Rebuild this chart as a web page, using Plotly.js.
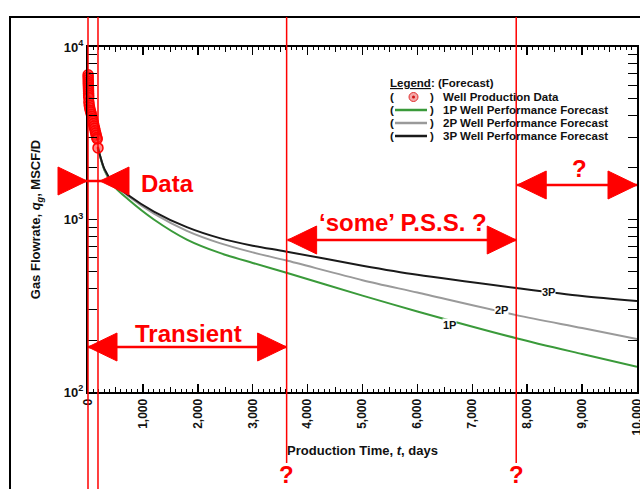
<!DOCTYPE html>
<html>
<head>
<meta charset="utf-8">
<script src="https://cdn.plot.ly/plotly-3.0.1.min.js"></script>
<style>
  html, body { margin: 0; padding: 0; background: #ffffff; }
  #chart { width: 640px; height: 489px; }
</style>
</head>
<body>
<div id="chart"></div>
<script>
// Measured well production (days, MSCF/D)
const dataDays = [2, 3, 4, 5, 6, 7, 8, 9, 10, 11, 12, 13, 16, 22, 30, 40, 50, 60, 70, 80, 90, 100, 110, 120, 130, 140, 150, 160, 168, 182];
const dataRate = [6900, 6700, 6500, 6300, 6150, 6000, 5850, 5700, 5550, 5400, 5250, 5100, 4800, 4600, 4450, 4300, 4200, 4080, 3950, 3840, 3720, 3600, 3480, 3380, 3270, 3170, 3080, 2990, 2930, 2600];

// Forecast time grid (days) and the three forecast cases (MSCF/D)
const fcDays = [182, 300, 450, 730, 1200, 1800, 2400, 3000, 3600, 5000, 6000, 7800, 9000, 10000];
const rate1P = [2600, 1930, 1590, 1310, 1000, 765, 640, 560, 493, 362, 293, 205, 166, 140];
const rate2P = [2600, 1950, 1630, 1368, 1080, 860, 730, 645, 580, 445, 377, 279, 235, 203];
const rate3P = [2600, 1960, 1650, 1387, 1112, 903, 780, 705, 653, 540, 478, 401, 360, 337];

// Flow-regime boundaries (days)
const regimeBounds = [0, 182, 3618, 7800];
const X_MAX = 10000;

// Axis tick labels
const yTickVals = [100, 1000, 10000];
const yTickText = ['10<sup>2</sup>', '10<sup>3</sup>', '10<sup>4</sup>'];

// ---- page geometry helpers (plot box in page pixels) ----
const W = 640, H = 489;
const L = 88, R = 637, T = 47, B = 392;
const px = x => (x - L) / (R - L);
const py = y => (B - y) / (B - T);
const tx = t => t / X_MAX;                 // days -> paper x
const xPix = t => L + tx(t) * (R - L);     // days -> page pixel x
const pt = (x, y) => px(x) + ',' + py(y);

const RED = '#ff0000';
const FONT = 'Liberation Sans, Arial, sans-serif';

const shapes = [];
const annotations = [];

// outer frame of the figure panel
shapes.push({
  type: 'rect', xref: 'paper', yref: 'paper',
  x0: px(10), y0: py(17), x1: px(700), y1: py(560),
  line: { color: '#000', width: 2 }, fillcolor: 'rgba(0,0,0,0)', layer: 'below'
});

// vertical regime boundaries
regimeBounds.forEach((t, i) => {
  shapes.push({
    type: 'line', xref: 'paper', yref: 'paper',
    x0: tx(t), x1: tx(t), y0: py(i < 2 ? 495 : 463), y1: py(17),
    line: { color: RED, width: 1.5 }
  });
});

// triangle head helper: tip at (xt, y), pointing in direction dir (+1 right, -1 left)
const HEAD_LEN = 29, HEAD_HALF = 14;
function head(xt, y, dir) {
  const xb = xt - dir * HEAD_LEN;
  shapes.push({
    type: 'path', xref: 'paper', yref: 'paper',
    path: 'M' + pt(xt, y) + ' L' + pt(xb, y - HEAD_HALF) + ' L' + pt(xb, y + HEAD_HALF) + ' Z',
    fillcolor: RED, line: { color: RED, width: 1 }
  });
}
function bar(x0, x1, y) {
  shapes.push({
    type: 'line', xref: 'paper', yref: 'paper',
    x0: px(x0), x1: px(x1), y0: py(y), y1: py(y),
    line: { color: RED, width: 2.5 }
  });
}
// double arrow with heads pointing outward
function spanArrow(xl, xr, y) {
  bar(xl, xr, y);
  head(xl, y, -1);
  head(xr, y, 1);
}

// "Data" marker: heads pointing inward onto the early-data window
const dataY = 181;
bar(xPix(regimeBounds[0]) - 30, xPix(regimeBounds[1]) + 30, dataY);
head(xPix(regimeBounds[0]) - 1, dataY, 1);
head(xPix(regimeBounds[1]) + 2, dataY, -1);

spanArrow(xPix(regimeBounds[0]), xPix(regimeBounds[2]), 347);
spanArrow(xPix(regimeBounds[2]) + 1, xPix(regimeBounds[3]), 240);
spanArrow(xPix(regimeBounds[3]) + 1, xPix(X_MAX), 185);

function redText(text, x, y, anchor) {
  annotations.push({
    xref: 'paper', yref: 'paper', x: px(x), y: py(y),
    xanchor: anchor || 'center', yanchor: 'middle', showarrow: false,
    text: text, font: { family: FONT, size: 24, color: RED, weight: 'bold' }
  });
}
redText('Data', 139, 183, 'left');
redText('Transient', 188, 333);
redText('\u2018some\u2019 P.S.S. ?', 403, 222);
redText('?', 579, 168);
redText('?', xPix(regimeBounds[2]), 474);
redText('?', xPix(regimeBounds[3]), 474);

// curve labels
function curveLabel(text, x, y) {
  annotations.push({
    xref: 'paper', yref: 'paper', x: px(x), y: py(y),
    xanchor: 'center', yanchor: 'middle', showarrow: false,
    text: text, bgcolor: '#ffffff', borderpad: 0,
    font: { family: FONT, size: 11, color: '#111', weight: 'bold' }
  });
}
curveLabel('3P', 548, 292);
curveLabel('2P', 501, 310);
curveLabel('1P', 449, 325);

// legend block
const legFont = { family: FONT, size: 11.5, color: '#111', weight: 'bold' };
function legText(text, x, y) {
  annotations.push({
    xref: 'paper', yref: 'paper', x: px(x), y: py(y),
    xanchor: 'left', yanchor: 'middle', showarrow: false,
    text: text, font: legFont
  });
}
legText('<u>Legend</u>: (Forecast)', 388, 83);
const legRows = [
  { y: 97, label: 'Well Production Data', kind: 'marker' },
  { y: 110, label: '1P Well Performance Forecast', color: '#3a9a3a' },
  { y: 123, label: '2P Well Performance Forecast', color: '#9a9a9a' },
  { y: 136, label: '3P Well Performance Forecast', color: '#1a1a1a' }
];
legRows.forEach(r => {
  legText('(', 388, r.y);
  legText(')', 428, r.y);
  legText(r.label, 441, r.y);
  if (r.kind === 'marker') {
    shapes.push({
      type: 'circle', xref: 'paper', yref: 'paper',
      x0: px(409), x1: px(418), y0: py(101.5), y1: py(92.5),
      fillcolor: 'rgba(240,130,130,0.7)', line: { color: '#e03030', width: 1 }
    });
    shapes.push({
      type: 'circle', xref: 'paper', yref: 'paper',
      x0: px(412), x1: px(415), y0: py(98.5), y1: py(95.5),
      fillcolor: '#d01010', line: { width: 0 }
    });
  } else {
    shapes.push({
      type: 'line', xref: 'paper', yref: 'paper',
      x0: px(395), x1: px(427), y0: py(r.y), y1: py(r.y),
      line: { color: r.color, width: 2.5 }
    });
  }
});

// minor ticks for the log axis
const yMinor = [];
[100, 1000].forEach(d => { for (let k = 2; k <= 9; k++) yMinor.push(k * d); });

const traces = [
  { x: fcDays, y: rate1P, mode: 'lines', name: '1P',
    line: { color: '#3a9a3a', width: 2, shape: 'spline', smoothing: 0.8 } },
  { x: fcDays, y: rate2P, mode: 'lines', name: '2P',
    line: { color: '#9a9a9a', width: 2, shape: 'spline', smoothing: 0.8 } },
  { x: fcDays, y: rate3P, mode: 'lines', name: '3P',
    line: { color: '#1a1a1a', width: 2, shape: 'spline', smoothing: 0.8 } },
  { x: dataDays, y: dataRate, mode: 'markers', name: 'Well Production Data', cliponaxis: false,
    marker: { symbol: 'circle-dot', size: 10, color: 'rgba(255,40,40,0.55)',
              line: { color: RED, width: 1.5 } } },
  // carries the half-interval tick marks on the time axis
  { x: [], y: [], xaxis: 'x2', yaxis: 'y', hoverinfo: 'skip', showlegend: false }
];

const layout = {
  width: W, height: H,
  margin: { l: L, r: W - R, t: T, b: H - B, pad: 0 },
  paper_bgcolor: '#ffffff', plot_bgcolor: '#ffffff',
  showlegend: false,
  font: { family: FONT, color: '#111' },
  xaxis: {
    range: [0, X_MAX], dtick: 1000, tick0: 0, tickformat: ',d', tickangle: -90,
    ticklabeloverflow: 'allow',
    ticks: 'inside', ticklen: 8, tickwidth: 1.5, tickcolor: '#000',
    minor: { ticks: 'inside', dtick: 100, ticklen: 3, tickwidth: 1, tickcolor: '#000' },
    showline: true, linecolor: '#000', linewidth: 2, mirror: 'allticks',
    showgrid: false, zeroline: false,
    tickfont: { family: FONT, size: 12, color: '#111', weight: 'bold' },
    title: { text: 'Production Time, <i>t</i>, days', standoff: 11,
             font: { family: FONT, size: 13, color: '#111', weight: 'bold' } }
  },
  xaxis2: {
    overlaying: 'x', range: [0, X_MAX], dtick: 500, tick0: 0,
    ticks: 'inside', ticklen: 5, tickwidth: 1, tickcolor: '#000',
    showticklabels: false, showline: false, mirror: 'allticks',
    showgrid: false, zeroline: false
  },
  yaxis: {
    type: 'log', range: [2, 4],
    tickmode: 'array', tickvals: yTickVals, ticktext: yTickText,
    ticks: 'inside', ticklen: 9, tickwidth: 1.5, tickcolor: '#000',
    minor: { ticks: 'inside', tickmode: 'array', tickvals: yMinor, ticklen: 5, tickwidth: 1, tickcolor: '#000' },
    showline: true, linecolor: '#000', linewidth: 2, mirror: 'allticks',
    showgrid: false, zeroline: false,
    tickfont: { family: FONT, size: 13, color: '#111', weight: 'bold' },
    title: { text: 'Gas Flowrate, <i>q</i><sub><i>g</i></sub>, MSCF/D', standoff: 20,
             font: { family: FONT, size: 13, color: '#111', weight: 'bold' } }
  },
  shapes: shapes,
  annotations: annotations
};

Plotly.newPlot('chart', traces, layout, { displayModeBar: false, staticPlot: true });
</script>
</body>
</html>
